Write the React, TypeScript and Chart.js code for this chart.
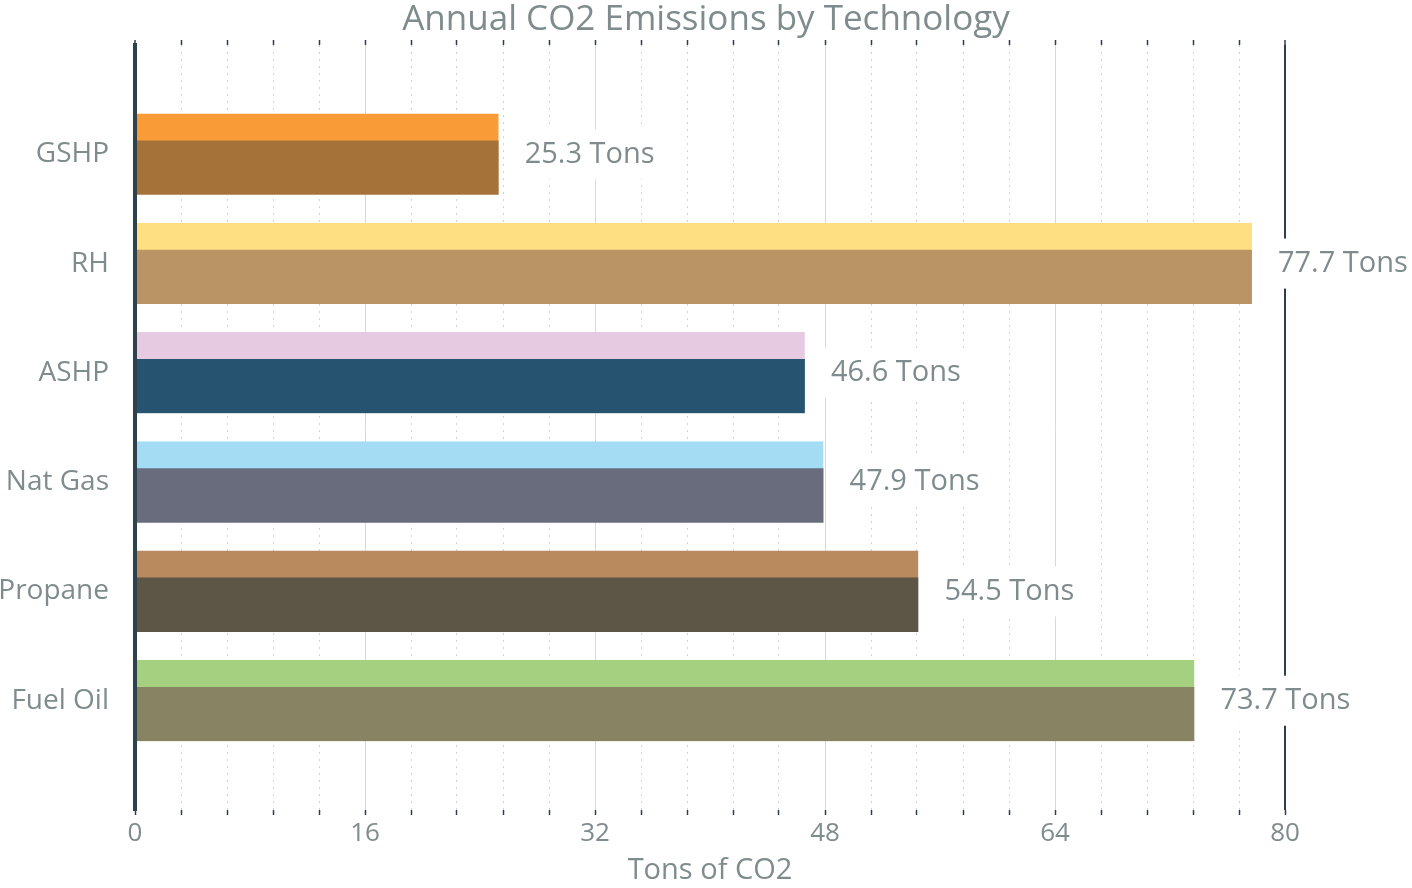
import React, { useEffect, useRef } from 'react';
import { Chart, registerables } from 'chart.js';

Chart.register(...registerables);

const chartTitle = 'Annual CO2 Emissions by Technology';
const xAxisTitle = 'Tons of CO2';
const unitLabel = 'Tons';
const categories = ['GSHP', 'RH', 'ASHP', 'Nat Gas', 'Propane', 'Fuel Oil'];
const emissions = [25.3, 77.7, 46.6, 47.9, 54.5, 73.7];
const topColors = ['#F99B36', '#FEDF82', '#E5CAE2', '#A4DCF4', '#B98A5E', '#A4D07F'];
const baseColors = ['#A5733A', '#BB9466', '#26536F', '#686C7D', '#5D5545', '#888463'];
const axisMin = 0;
const axisMax = 80;
const minorStep = 3.2;
const majorStep = 16;

const TEXT = '#7f8c8d';
const DARK = '#2c3e50';
const FONT = "'Open Sans', sans-serif";

const yLabels = ['', ...categories, ''];
const barValues = [null, ...emissions, null];
const barTops = ['transparent', ...topColors, 'transparent'];
const barBases = ['transparent', ...baseColors, 'transparent'];

const isMajor = (v: number) => Math.abs(v / majorStep - Math.round(v / majorStep)) < 1e-6;
const isEdge = (v: number) => Math.abs(v - axisMin) < 1e-6 || Math.abs(v - axisMax) < 1e-6;

const valueLabels = {
  id: 'valueLabels',
  afterDatasetsDraw(chart: any) {
    const ctx = chart.ctx;
    const meta = chart.getDatasetMeta(0);
    ctx.save();
    ctx.font = `29px ${FONT}`;
    ctx.textAlign = 'left';
    ctx.textBaseline = 'middle';
    meta.data.forEach((el: any, i: number) => {
      const v = barValues[i];
      if (v === null || v === undefined) return;
      const text = `${(v as number).toFixed(1)} ${unitLabel}`;
      const w = ctx.measureText(text).width;
      const tx = el.x + 26;
      ctx.fillStyle = '#ffffff';
      ctx.fillRect(tx - 10, el.y - 25, w + 20, 50);
      ctx.fillStyle = TEXT;
      ctx.fillText(text, tx, el.y);
    });
    ctx.restore();
  },
};

export default function App() {
  const canvasRef = useRef<HTMLCanvasElement | null>(null);

  useEffect(() => {
    if (!canvasRef.current) return;
    Chart.defaults.font.family = FONT;
    const chart = new Chart(canvasRef.current, {
      type: 'bar',
      data: {
        labels: yLabels,
        datasets: [
          {
            data: barValues as any,
            backgroundColor: barBases,
            borderColor: barTops,
            borderWidth: { top: 27, left: 0, right: 0, bottom: 0 } as any,
            borderSkipped: false,
            barThickness: 81,
            xAxisID: 'x',
            yAxisID: 'y',
          },
        ],
      },
      options: {
        indexAxis: 'y',
        animation: false,
        responsive: false,
        layout: { padding: 0 },
        plugins: {
          legend: { display: false },
          tooltip: { enabled: false },
          title: {
            display: true,
            text: chartTitle,
            color: TEXT,
            font: { family: FONT, size: 35, weight: 'normal', lineHeight: 1.08 },
            padding: { top: 1, bottom: 1.2 },
          },
        },
        scales: {
          x: {
            type: 'linear',
            position: 'bottom',
            min: axisMin,
            max: axisMax,
            ticks: {
              stepSize: minorStep,
              autoSkip: false,
              maxRotation: 0,
              color: TEXT,
              font: { family: FONT, size: 26 },
              padding: 3,
              callback: (v: any) => (isMajor(Number(v)) ? String(Math.round(Number(v))) : ''),
            },
            grid: {
              color: (c: any) => {
                const v = c.tick ? c.tick.value : 0;
                return isMajor(v) || isEdge(v) ? 'rgba(0,0,0,0)' : '#cfd3d6';
              },
              lineWidth: 1,
              tickColor: DARK,
              tickLength: 5,
              tickWidth: 1.5,
            },
            border: { display: false, dash: [2, 5] },
            title: {
              display: true,
              text: xAxisTitle,
              color: TEXT,
              font: { family: FONT, size: 29 },
              padding: { top: 2, bottom: 0 },
            },
            afterFit: (s: any) => {
              s.height = 78;
            },
          },
          xTop: {
            type: 'linear',
            position: 'top',
            min: axisMin,
            max: axisMax,
            ticks: { stepSize: minorStep, display: false, autoSkip: false },
            grid: {
              color: (c: any) => {
                const v = c.tick ? c.tick.value : 0;
                if (isEdge(v)) return DARK;
                return isMajor(v) ? '#d6d9dc' : 'rgba(0,0,0,0)';
              },
              lineWidth: (c: any) => {
                const v = c.tick ? c.tick.value : 0;
                return isEdge(v) ? 2 : 1;
              },
              tickColor: DARK,
              tickLength: 5,
              tickWidth: 1.5,
            },
            border: { display: false },
            afterFit: (s: any) => {
              s.height = 5;
            },
          },
          y: {
            type: 'category',
            offset: false,
            grid: { display: false },
            border: { display: true, color: '#2e424d', width: 4, z: 1 },
            ticks: {
              color: TEXT,
              font: { family: FONT, size: 28 },
              padding: 18,
              autoSkip: false,
            },
            afterFit: (s: any) => {
              s.width = 135;
            },
          },
          yRight: {
            type: 'category',
            position: 'right',
            offset: false,
            grid: { display: false },
            border: { display: false },
            ticks: { display: false },
            afterFit: (s: any) => {
              s.width = 127;
            },
          },
        },
      } as any,
      plugins: [valueLabels],
    });
    return () => chart.destroy();
  }, []);

  return (
    <div style={{ position: 'absolute', left: 0, top: 0, width: 1412, height: 888, background: '#fff' }}>
      <canvas ref={canvasRef} width={1412} height={888} style={{ display: 'block' }} />
    </div>
  );
}
